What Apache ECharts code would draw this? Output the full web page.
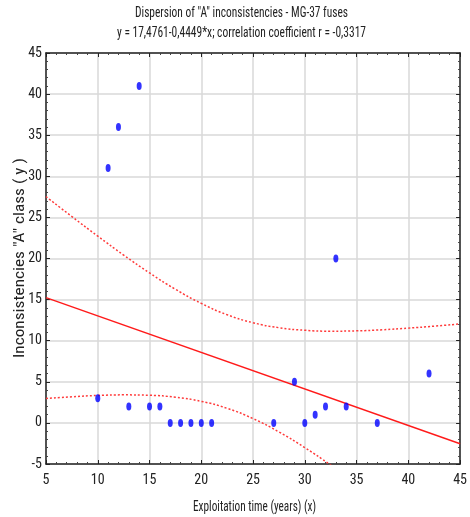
<!DOCTYPE html>
<html>
<head>
<meta charset="utf-8">
<script src="https://cdn.jsdelivr.net/npm/echarts@6/dist/echarts.min.js"></script>
<style>html,body{margin:0;padding:0;background:#fff}#c{width:470px;height:517px}</style>
</head>
<body>
<div id="c"></div>
<script>
// Observed points: exploitation time (years) and "A" class inconsistencies
var timeYears = [10, 11, 12, 13, 14, 15, 16, 17, 18, 19, 20, 21, 27, 29, 30, 31, 32, 33, 34, 37, 42];
var inconsistencies = [3, 31, 36, 2, 41, 2, 2, 0, 0, 0, 0, 0, 0, 5, 0, 1, 2, 20, 2, 0, 6];
// Regression line end points
var fitX = [5, 45];
var fitY = [15.25, -2.54];
// Confidence band curves
var bandX = [5, 7.5, 10, 12.5, 15, 17.5, 20, 22.5, 25, 27.5, 30, 32.5, 35, 37.5, 40, 42.5, 45];
var bandUpper = [27.53, 25.10, 22.72, 20.42, 18.25, 16.26, 14.54, 13.16, 12.19, 11.58, 11.27, 11.16, 11.20, 11.33, 11.53, 11.77, 12.04];
var bandLower = [2.97, 3.18, 3.34, 3.41, 3.36, 3.12, 2.62, 1.77, 0.52, -1.10, -3.01, -5.13, -7.39, -9.75, -12.17, -14.63, -17.13];
var xTicks = [5, 10, 15, 20, 25, 30, 35, 40, 45];
var yTicks = [-5, 0, 5, 10, 15, 20, 25, 30, 35, 40, 45];
var titleLines = ['Dispersion of "A" inconsistencies - MG-37 fuses', 'y = 17,4761-0,4449*x; correlation coefficient r = -0,3317'];
var xName = 'Exploitation time (years) (x)';
var yName = 'Inconsistencies "A" class ( y )';

var FONT = "'Roboto Condensed', 'Liberation Sans', Arial, sans-serif";
var TXT = '#222';
function zip(a, b) { return a.map(function (v, i) { return [v, b[i]]; }); }

// condensed text helper: squeeze text horizontally to the width it occupies in the reference
var mctx = document.createElement('canvas').getContext('2d');
function squeezed(text, size, cx, cy, width, rot) {
  var font = size + 'px ' + FONT;
  mctx.font = font;
  var w = mctx.measureText(text).width;
  return {
    type: 'text', x: cx, y: cy, rotation: rot || 0, scaleX: width / w, scaleY: 1, silent: true,
    style: { text: text, font: font, fill: TXT, align: 'center', verticalAlign: 'middle' }
  };
}

var chart = echarts.init(document.getElementById('c'), null, { renderer: 'canvas' });
var axisCommon = {
  type: 'value',
  axisLine: { show: true, onZero: false, lineStyle: { color: '#222', width: 1.5 } },
  axisTick: { show: true, inside: true, length: 4, lineStyle: { color: '#222' } },
  minorTick: { show: true, splitNumber: 5, length: 2, lineStyle: { color: '#444' } }
};
var labelStyle = { fontFamily: FONT, fontSize: 14, color: TXT };
chart.setOption({
  animation: false,
  textStyle: { fontFamily: FONT },
  grid: { left: 46, right: 8, top: 53, bottom: 53 },
  graphic: [
    squeezed(titleLines[0], 15, 241.5, 13, 213),
    squeezed(titleLines[1], 15, 241.5, 33, 249),
    squeezed(xName, 15, 254.5, 507, 123),
    squeezed(yName, 15, 20, 258, 200, Math.PI / 2)
  ],
  xAxis: [
    Object.assign({}, axisCommon, {
      min: xTicks[0], max: xTicks[xTicks.length - 1], interval: 5, position: 'bottom',
      axisLabel: Object.assign({ margin: 9 }, labelStyle),
      splitLine: { show: true, lineStyle: { color: '#d8d8d8', width: 1.5 } }
    }),
    Object.assign({}, axisCommon, {
      min: xTicks[0], max: xTicks[xTicks.length - 1], interval: 5, position: 'top',
      axisLabel: { show: false }, splitLine: { show: false }
    })
  ],
  yAxis: [
    Object.assign({}, axisCommon, {
      min: yTicks[0], max: yTicks[yTicks.length - 1], interval: 5, position: 'left',
      axisLabel: Object.assign({ margin: 4 }, labelStyle),
      splitLine: { show: true, lineStyle: { color: '#d8d8d8', width: 1.5 } }
    }),
    Object.assign({}, axisCommon, {
      min: yTicks[0], max: yTicks[yTicks.length - 1], interval: 5, position: 'right',
      axisLabel: { show: false }, splitLine: { show: false }
    })
  ],
  series: [
    {
      type: 'line', data: zip(bandX, bandUpper), smooth: true, symbol: 'none', clip: true,
      lineStyle: { color: '#ff3a3a', width: 1.5, type: [2, 2] }, z: 2
    },
    {
      type: 'line', data: zip(bandX, bandLower), smooth: true, symbol: 'none', clip: true,
      lineStyle: { color: '#ff3a3a', width: 1.5, type: [2, 2] }, z: 2
    },
    {
      type: 'line', data: zip(fitX, fitY), symbol: 'none', clip: true,
      lineStyle: { color: '#ff1a1a', width: 1.4 }, z: 3
    },
    {
      type: 'scatter', data: zip(timeYears, inconsistencies), symbol: 'circle', symbolSize: [5, 8],
      itemStyle: { color: '#0000ff' }, z: 4
    }
  ]
});
</script>
</body>
</html>
